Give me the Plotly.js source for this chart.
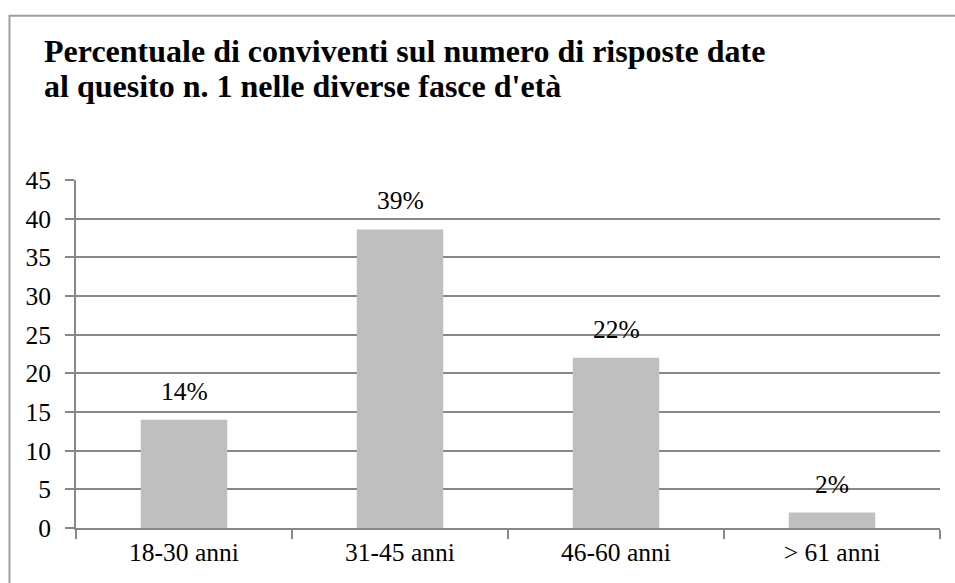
<!DOCTYPE html>
<html>
<head>
<meta charset="utf-8">
<script src="https://cdn.plot.ly/plotly-3.0.1.min.js"></script>
<style>
html,body{margin:0;padding:0;background:#fff;}
#chart{width:955px;height:583px;}
</style>
</head>
<body>
<div id="chart"></div>
<script>
const categories = ["18-30 anni", "31-45 anni", "46-60 anni", "> 61 anni"];
const values = [14, 38.6, 22, 2];
const valueLabels = ["14%", "39%", "22%", "2%"];
const yTicks = [0, 5, 10, 15, 20, 25, 30, 35, 40, 45];
const titleLines = ["Percentuale di conviventi sul numero di risposte date", "al quesito n. 1 nelle diverse fasce d'età"];

const serif = "Liberation Serif";

const trace = {
  type: "bar",
  x: categories,
  y: values,
  marker: {color: "#BFBFBF"},
  hoverinfo: "none"
};

const annotations = categories.map((c, i) => ({
  x: c, y: values[i], xref: "x", yref: "y",
  text: valueLabels[i], showarrow: false,
  yanchor: "bottom", yshift: 12,
  font: {family: serif, size: 25.5, color: "#000000"}
}));

const titleY = [1.3130, 1.2120];
titleLines.forEach((t, i) => annotations.push({
  x: -0.0394, y: titleY[i], xref: "paper", yref: "paper",
  xanchor: "left", yanchor: "bottom", align: "left",
  text: "<b>" + t + "</b>", showarrow: false,
  font: {family: serif, size: 32, color: "#000000"}
}));

const layout = {
  width: 955, height: 583,
  font: {family: serif, size: 25.5, color: "#000000"},
  margin: {l: 76, r: 15, t: 180, b: 55},
  paper_bgcolor: "#ffffff", plot_bgcolor: "#ffffff",
  showlegend: false,
  bargap: 0.6,
  xaxis: {
    type: "category",
    showline: true, linecolor: "#878787", linewidth: 2,
    ticks: "outside", tickson: "boundaries", ticklen: 9, tickcolor: "#878787", tickwidth: 2,
    ticklabelstandoff: 0,
    tickfont: {family: serif, size: 25.5, color: "#000000"},
    showgrid: false, zeroline: false
  },
  yaxis: {
    range: [0, 45],
    tickvals: yTicks,
    showline: true, linecolor: "#878787", linewidth: 2,
    ticks: "outside", ticklen: 9, tickcolor: "#878787", tickwidth: 2,
    ticklabelstandoff: 9,
    tickfont: {family: serif, size: 25.5, color: "#000000"},
    showgrid: true, gridcolor: "#878787", gridwidth: 2,
    zeroline: false
  },
  annotations: annotations,
  shapes: [{
    type: "rect", xref: "paper", yref: "paper",
    x0: -0.0770, x1: 1.05, y0: -0.3, y1: 1.4720,
    line: {color: "#A0A0A0", width: 2}, layer: "below"
  }]
};

Plotly.newPlot("chart", [trace], layout, {displayModeBar: false, staticPlot: true});
</script>
</body>
</html>
